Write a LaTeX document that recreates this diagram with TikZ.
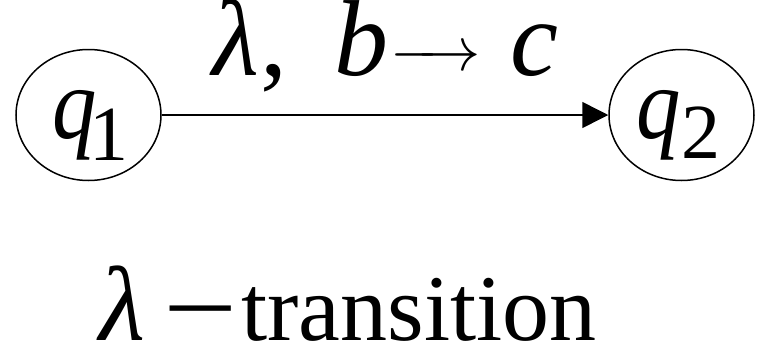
\documentclass[tikz,border=0pt]{standalone}
\usepackage{fontspec}
\setmainfont{Liberation Serif}
\usetikzlibrary{arrows.meta,shapes.geometric}
\tikzset{
  state/.style={draw, ellipse, line width=1.5pt, minimum width=145pt, minimum height=131pt, inner sep=0pt},
  lbl/.style={inner sep=0pt, anchor=base west},
  edge/.style={line width=1.5pt, -{Triangle[length=26pt,width=26pt]}}
}
\newcommand{\fsz}[1]{\fontsize{#1}{#1}\selectfont}
\begin{document}
\begin{tikzpicture}[x=1pt,y=-1pt]
\useasboundingbox (0,0) rectangle (761,346);
\node[state] (q1) at (88.5,115) {};
\node[state] (q2) at (681.5,115) {};
\node[lbl] (t1) at (52,138) {\scalebox{0.87}[1]{\fsz{102}\textit{q}}\hspace{-7pt}\raisebox{-22pt}{\fsz{78}1}};
\node[lbl] (t2) at (636,138) {\scalebox{0.87}[1]{\fsz{102}\textit{q}}\hspace{1pt}\raisebox{-20pt}{\fsz{78}2}};
\draw[edge] (q1) -- (q2);
\node[lbl] (lab) at (212,75) {\fsz{108}\textit{λ}\hspace{2pt},\hspace{47pt}\textit{b}\hspace{2pt}\raisebox{5pt}{\scalebox{3}{\fsz{20}\makebox[30pt]{\rightarrowfill}}}\hspace{30pt}\fsz{108}\textit{c}};
\node[lbl] (cap) at (99,340) {\fsz{106}\textit{λ}\hspace{18pt}\fsz{94}\raisebox{-4pt}{\scalebox{1.4}[1.15]{−}}\hspace{4pt}transition};
\end{tikzpicture}
\end{document}
